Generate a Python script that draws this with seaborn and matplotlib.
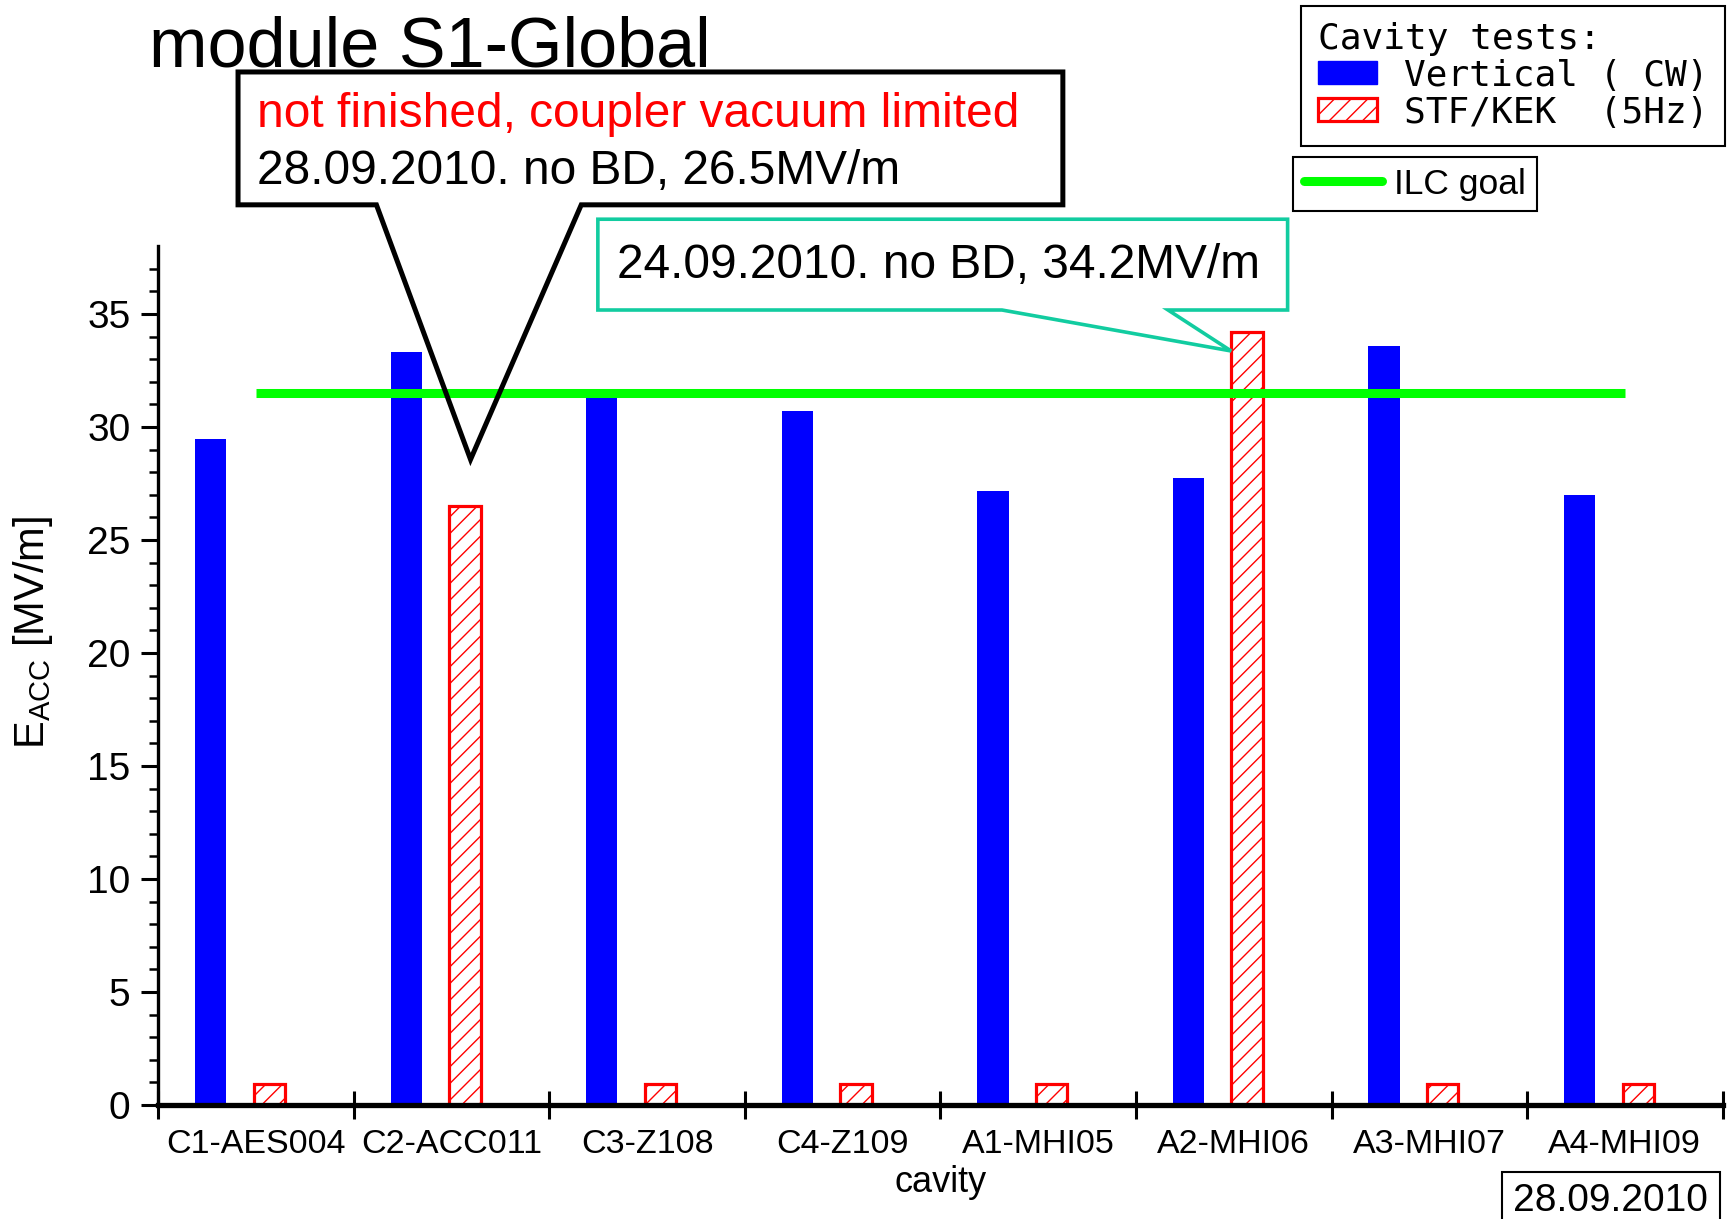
import numpy as np
import pandas as pd
import matplotlib
matplotlib.use("Agg")
import matplotlib.pyplot as plt
import seaborn as sns
from matplotlib.patches import Patch, Polygon
from matplotlib.lines import Line2D

# ---------------- data ----------------
CAVITIES = ["C1-AES004", "C2-ACC011", "C3-Z108", "C4-Z109",
            "A1-MHI05", "A2-MHI06", "A3-MHI07", "A4-MHI09"]
VERTICAL_CW = [29.45, 33.3, 31.5, 30.7, 27.15, 27.75, 33.6, 27.0]
STF_KEK_5HZ = [0.95, 26.5, 0.95, 0.95, 0.95, 34.2, 0.95, 0.95]
ILC_GOAL = 31.5
Y_TICKS = [0, 5, 10, 15, 20, 25, 30, 35]
SERIES_LABELS = ["Vertical ( CW)", "STF/KEK  (5Hz)"]

df = pd.DataFrame({
    "cavity": CAVITIES * 2,
    "value": VERTICAL_CW + STF_KEK_5HZ,
    "test": [SERIES_LABELS[0]] * len(CAVITIES) + [SERIES_LABELS[1]] * len(CAVITIES),
})

# ---------------- style ----------------
sns.set_style("ticks")
REGULAR = ["Liberation Sans", "DejaVu Sans"]
MONO = ["DejaVu Sans Mono"]
plt.rcParams["font.family"] = REGULAR
plt.rcParams["text.color"] = "black"
plt.rcParams["axes.labelcolor"] = "black"
plt.rcParams["xtick.color"] = "black"
plt.rcParams["ytick.color"] = "black"
plt.rcParams["axes.edgecolor"] = "black"
plt.rcParams["hatch.linewidth"] = 1.0
plt.rcParams["hatch.color"] = "#FF0000"

BLUE = "#0000FF"
RED = "#FF0000"
GREEN = "#00FF00"
TEAL = "#12CCA0"

fig = plt.figure(figsize=(17.36, 12.19), dpi=100)
ax = fig.add_axes([0.0912, 0.0935, 0.9011, 0.7045])

sns.barplot(data=df, x="cavity", y="value", hue="test",
            hue_order=SERIES_LABELS, order=CAVITIES,
            palette=[BLUE, "white"], saturation=1, errorbar=None,
            width=0.6, gap=0.467, legend=False, ax=ax)

# style the two series
for bar in ax.containers[0]:
    bar.set_facecolor(BLUE)
    bar.set_edgecolor("none")
for bar in ax.containers[1]:
    bar.set_facecolor("white")
    bar.set_edgecolor(RED)
    bar.set_linewidth(2.3)
    bar.set_hatch("//")

OFF = 0.082  # label centres sit right of the bar-group centre
n = len(CAVITIES)
centers = np.arange(n) + OFF
bounds = np.arange(n + 1) - 0.5 + OFF

ax.hlines(ILC_GOAL, centers[0], centers[-1], color=GREEN, lw=6.5, zorder=5)

ax.set_xlim(bounds[0], bounds[-1])
ax.set_ylim(0, 38)

ax.set_xticks(bounds)
ax.set_xticklabels([])
ax.set_xticks(centers, minor=True)
ax.set_xticklabels(CAVITIES, minor=True, fontsize=24.5, family=REGULAR)
ax.tick_params(axis="x", which="major", direction="inout", length=20, width=2.2)
ax.tick_params(axis="x", which="minor", length=0, pad=17)

ax.set_yticks(Y_TICKS)
ax.set_yticks(np.arange(0, 38, 1), minor=True)
ax.set_yticklabels([str(t) for t in Y_TICKS], fontsize=28, family=REGULAR)
ax.tick_params(axis="y", which="major", direction="out", length=12, width=2.2, pad=8)
ax.tick_params(axis="y", which="minor", direction="out", length=6.5, width=1.8)

for s in ("top", "right"):
    ax.spines[s].set_visible(False)
ax.spines["left"].set_linewidth(2.4)
ax.spines["bottom"].set_linewidth(3.8)

ax.set_xlabel("cavity", fontsize=26, family=REGULAR, labelpad=4)
ax.set_ylabel(r"$\mathregular{E_{ACC}}$ [MV/m]", fontsize=30, family=REGULAR, va="center")
ax.yaxis.set_label_coords(-0.08, 0.55)

# ---------------- texts & callouts ----------------
W, H = 1568.0, 1101.0
def fp(x, y):
    return (x / W, 1 - y / H)

fig.text(*fp(135, 60), "module S1-Global", fontsize=50.5, family=REGULAR,
         va="baseline", ha="left")

black_pts = [fp(*p) for p in [(215, 65), (960, 65), (960, 185), (525, 185),
                               (425, 415), (340, 185), (215, 185)]]
fig.add_artist(Polygon(black_pts, closed=True, fill=False, edgecolor="black",
                       lw=3.6, transform=fig.transFigure, joinstyle="miter", zorder=10))
fig.text(*fp(232, 115), "not finished, coupler vacuum limited", color=RED,
         fontsize=34.5, family=REGULAR, va="baseline", ha="left", zorder=11)
fig.text(*fp(232, 166), "28.09.2010. no BD, 26.5MV/m", color="black",
         fontsize=34.5, family=REGULAR, va="baseline", ha="left", zorder=11)

teal_pts = [fp(*p) for p in [(540, 198), (1163, 198), (1163, 280), (1055, 280),
                              (1112, 317), (905, 280), (540, 280)]]
fig.add_artist(Polygon(teal_pts, closed=True, fill=False, edgecolor=TEAL,
                       lw=2.6, transform=fig.transFigure, joinstyle="miter", zorder=10))
fig.text(*fp(557, 251), "24.09.2010. no BD, 34.2MV/m", color="black",
         fontsize=34.5, family=REGULAR, va="baseline", ha="left", zorder=11)

# ---------------- legends ----------------
h1 = [Patch(facecolor=BLUE, edgecolor=BLUE, lw=1),
      Patch(facecolor="white", edgecolor=RED, hatch="//", lw=2.3)]
leg1 = fig.legend(h1, SERIES_LABELS, title="Cavity tests:", loc="upper right",
                  bbox_to_anchor=fp(1558, 5), borderaxespad=0,
                  prop={"family": MONO, "size": 26},
                  title_fontproperties={"family": MONO, "size": 26},
                  alignment="left", frameon=True, fancybox=False,
                  edgecolor="black", framealpha=1, handlelength=1.65,
                  handleheight=0.6, handletextpad=0.75, labelspacing=0.08,
                  borderpad=0.45)
leg1.get_frame().set_linewidth(1.5)

h2 = [Line2D([0], [0], color=GREEN, lw=6.5)]
leg2 = fig.legend(h2, ["ILC goal"], loc="upper left", bbox_to_anchor=fp(1168, 142),
                  borderaxespad=0, prop={"family": REGULAR, "size": 25.5},
                  frameon=True, fancybox=False, edgecolor="black", framealpha=1,
                  handlelength=2.2, handletextpad=0.35, borderpad=0.3)
leg2.get_frame().set_linewidth(1.5)

fig.text(*fp(1367, 1094), "28.09.2010", fontsize=28, family=REGULAR,
         va="baseline", ha="left",
         bbox=dict(boxstyle="square,pad=0.3", facecolor="white",
                   edgecolor="black", lw=1.5))

fig.savefig("out.png", dpi=100)
